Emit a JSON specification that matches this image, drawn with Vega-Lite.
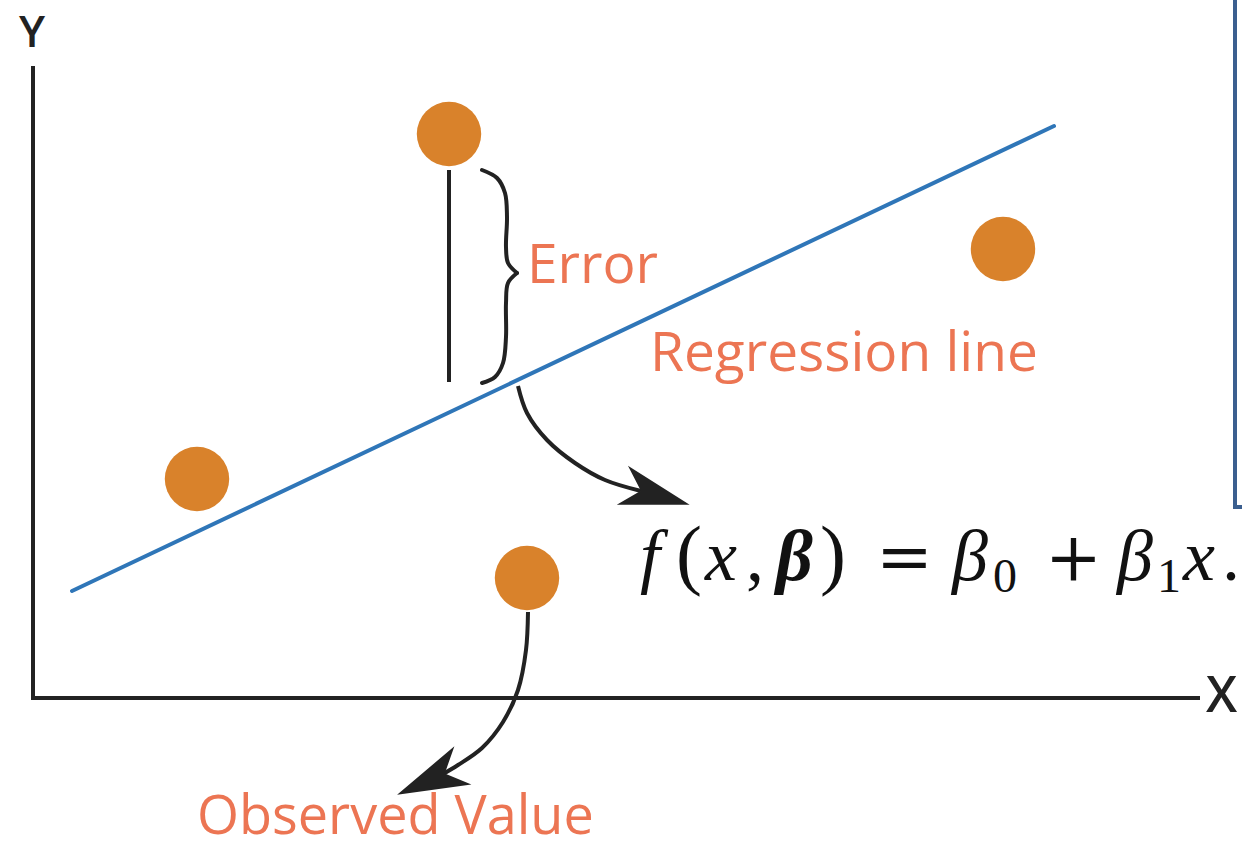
{
  "$schema": "https://vega.github.io/schema/vega-lite/v6.json",
  "width": 1242,
  "height": 850,
  "autosize": {"type": "none"},
  "padding": 0,
  "background": "white",
  "config": {"view": {"stroke": null}},
  "datasets": {
    "axes": [
      {"x": 33, "y": 66, "x2": 33, "y2": 698},
      {"x": 31, "y": 698, "x2": 1200, "y2": 698}
    ],
    "frame": [
      {"x": 1235, "y": 0, "x2": 1235, "y2": 509},
      {"x": 1233, "y": 507, "x2": 1242, "y2": 507}
    ],
    "regline": [{"x": 72, "y": 591, "x2": 1054, "y2": 126}],
    "errline": [{"x": 449, "y": 170, "x2": 449, "y2": 382}],
    "brace": [
      {"part": "upper", "i": 0, "x": 482, "y": 170},
      {"part": "upper", "i": 1, "x": 497, "y": 178},
      {"part": "upper", "i": 2, "x": 505, "y": 193},
      {"part": "upper", "i": 3, "x": 507, "y": 217},
      {"part": "upper", "i": 4, "x": 506, "y": 247},
      {"part": "upper", "i": 5, "x": 508, "y": 263},
      {"part": "upper", "i": 6, "x": 517, "y": 273},
      {"part": "lower", "i": 0, "x": 517, "y": 273},
      {"part": "lower", "i": 1, "x": 508, "y": 283},
      {"part": "lower", "i": 2, "x": 506, "y": 303},
      {"part": "lower", "i": 3, "x": 506, "y": 337},
      {"part": "lower", "i": 4, "x": 503, "y": 363},
      {"part": "lower", "i": 5, "x": 495, "y": 377},
      {"part": "lower", "i": 6, "x": 482, "y": 383}
    ],
    "arrows": [
      {"part": "fit", "i": 0, "x": 518, "y": 386},
      {"part": "fit", "i": 1, "x": 527, "y": 413},
      {"part": "fit", "i": 2, "x": 547, "y": 440},
      {"part": "fit", "i": 3, "x": 575, "y": 463},
      {"part": "fit", "i": 4, "x": 605, "y": 480},
      {"part": "fit", "i": 5, "x": 641, "y": 491},
      {"part": "obs", "i": 0, "x": 528, "y": 612},
      {"part": "obs", "i": 1, "x": 526, "y": 650},
      {"part": "obs", "i": 2, "x": 518, "y": 690},
      {"part": "obs", "i": 3, "x": 503, "y": 722},
      {"part": "obs", "i": 4, "x": 482, "y": 748},
      {"part": "obs", "i": 5, "x": 458, "y": 765},
      {"part": "obs", "i": 6, "x": 443, "y": 774}
    ],
    "observed": [
      {"x": 449, "y": 134},
      {"x": 1003, "y": 249},
      {"x": 197, "y": 479},
      {"x": 527, "y": 578}
    ],
    "head1": [{"x": 656, "y": 495}],
    "head2": [{"x": 430, "y": 780}],
    "labels": [
      {"x": 527, "y": 283, "t": "Error"},
      {"x": 650, "y": 371, "t": "Regression line"}
    ],
    "labelsBottom": [
      {"x": 197, "y": 834, "t": "Observed Value"}
    ],
    "axisY": [{"x": 32, "y": 47, "t": "Y"}],
    "axisX": [{"x": 1206, "y": 712, "t": "X"}],
    "fItalic": [
      {"x": 640, "y": 580, "t": "f"},
      {"x": 705, "y": 580, "t": "x"},
      {"x": 952, "y": 580, "t": "β"},
      {"x": 1117, "y": 580, "t": "β"},
      {"x": 1183, "y": 580, "t": "x"}
    ],
    "fBold": [{"x": 776, "y": 580, "t": "β"}],
    "fParen": [
      {"x": 676, "y": 580, "t": "("},
      {"x": 820, "y": 580, "t": ")"}
    ],
    "fPunct": [
      {"x": 746, "y": 580, "t": ","},
      {"x": 1222, "y": 580, "t": "."}
    ],
    "fOps": [
      {"x": 876, "y": 580, "t": "="},
      {"x": 1045, "y": 580, "t": "+"}
    ],
    "fSub": [
      {"x": 993, "y": 592, "t": "0"},
      {"x": 1157, "y": 592, "t": "1"}
    ]
  },
  "encoding": {
    "x": {"field": "x", "type": "quantitative", "scale": {"domain": [0, 1242], "nice": false, "zero": false}, "axis": null},
    "y": {"field": "y", "type": "quantitative", "scale": {"domain": [0, 850], "nice": false, "zero": false, "reverse": true}, "axis": null}
  },
  "layer": [
    {
      "data": {"name": "axes"},
      "mark": {"type": "rule", "color": "#222222", "strokeWidth": 4},
      "encoding": {"x2": {"field": "x2"}, "y2": {"field": "y2"}}
    },
    {
      "data": {"name": "frame"},
      "mark": {"type": "rule", "color": "#3b5f8f", "strokeWidth": 4},
      "encoding": {"x2": {"field": "x2"}, "y2": {"field": "y2"}}
    },
    {
      "data": {"name": "regline"},
      "mark": {"type": "rule", "color": "#2f76b8", "strokeWidth": 4, "strokeCap": "round"},
      "encoding": {"x2": {"field": "x2"}, "y2": {"field": "y2"}}
    },
    {
      "data": {"name": "errline"},
      "mark": {"type": "rule", "color": "#222222", "strokeWidth": 4},
      "encoding": {"x2": {"field": "x2"}, "y2": {"field": "y2"}}
    },
    {
      "data": {"name": "brace"},
      "mark": {"type": "line", "interpolate": "catmull-rom", "color": "#222222", "strokeWidth": 4, "strokeCap": "round"},
      "encoding": {"detail": {"field": "part"}, "order": {"field": "i", "type": "quantitative"}}
    },
    {
      "data": {"name": "arrows"},
      "mark": {"type": "line", "interpolate": "catmull-rom", "color": "#222222", "strokeWidth": 4},
      "encoding": {"detail": {"field": "part"}, "order": {"field": "i", "type": "quantitative"}}
    },
    {
      "data": {"name": "head1"},
      "mark": {"type": "point", "shape": "M1,0L-1,-0.58L-0.45,0L-1,0.58Z", "filled": true, "color": "#222222", "opacity": 1, "size": 4900, "angle": 16}
    },
    {
      "data": {"name": "head2"},
      "mark": {"type": "point", "shape": "M1,0L-1,-0.58L-0.45,0L-1,0.58Z", "filled": true, "color": "#222222", "opacity": 1, "size": 5184, "angle": 156}
    },
    {
      "data": {"name": "observed"},
      "mark": {"type": "point", "shape": "circle", "filled": true, "color": "#d9822b", "opacity": 1, "size": 4150}
    },
    {
      "data": {"name": "labels"},
      "mark": {"type": "text", "align": "left", "baseline": "alphabetic", "font": "Open Sans", "fontSize": 55, "color": "#ec7553"},
      "encoding": {"text": {"field": "t"}}
    },
    {
      "data": {"name": "labelsBottom"},
      "mark": {"type": "text", "align": "left", "baseline": "alphabetic", "font": "Open Sans", "fontSize": 54, "color": "#ec7553"},
      "encoding": {"text": {"field": "t"}}
    },
    {
      "data": {"name": "axisY"},
      "mark": {"type": "text", "align": "center", "baseline": "alphabetic", "font": "Open Sans", "fontWeight": 600, "fontSize": 44, "color": "#222222"},
      "encoding": {"text": {"field": "t"}}
    },
    {
      "data": {"name": "axisX"},
      "mark": {"type": "text", "align": "left", "baseline": "alphabetic", "font": "Open Sans", "fontWeight": 600, "fontSize": 50, "color": "#222222"},
      "encoding": {"text": {"field": "t"}}
    },
    {
      "data": {"name": "fItalic"},
      "mark": {"type": "text", "align": "left", "baseline": "alphabetic", "font": "Liberation Serif", "fontStyle": "italic", "fontSize": 72, "color": "#111111"},
      "encoding": {"text": {"field": "t"}}
    },
    {
      "data": {"name": "fBold"},
      "mark": {"type": "text", "align": "left", "baseline": "alphabetic", "font": "Liberation Serif", "fontStyle": "italic", "fontWeight": "bold", "fontSize": 72, "color": "#111111"},
      "encoding": {"text": {"field": "t"}}
    },
    {
      "data": {"name": "fParen"},
      "mark": {"type": "text", "align": "left", "baseline": "alphabetic", "font": "Liberation Serif", "fontSize": 78, "color": "#111111"},
      "encoding": {"text": {"field": "t"}}
    },
    {
      "data": {"name": "fPunct"},
      "mark": {"type": "text", "align": "left", "baseline": "alphabetic", "font": "Liberation Serif", "fontSize": 72, "color": "#111111"},
      "encoding": {"text": {"field": "t"}}
    },
    {
      "data": {"name": "fOps"},
      "mark": {"type": "text", "align": "left", "baseline": "alphabetic", "font": "DejaVu Serif", "fontSize": 68, "color": "#111111"},
      "encoding": {"text": {"field": "t"}}
    },
    {
      "data": {"name": "fSub"},
      "mark": {"type": "text", "align": "left", "baseline": "alphabetic", "font": "Liberation Serif", "fontSize": 48, "color": "#111111"},
      "encoding": {"text": {"field": "t"}}
    }
  ]
}
